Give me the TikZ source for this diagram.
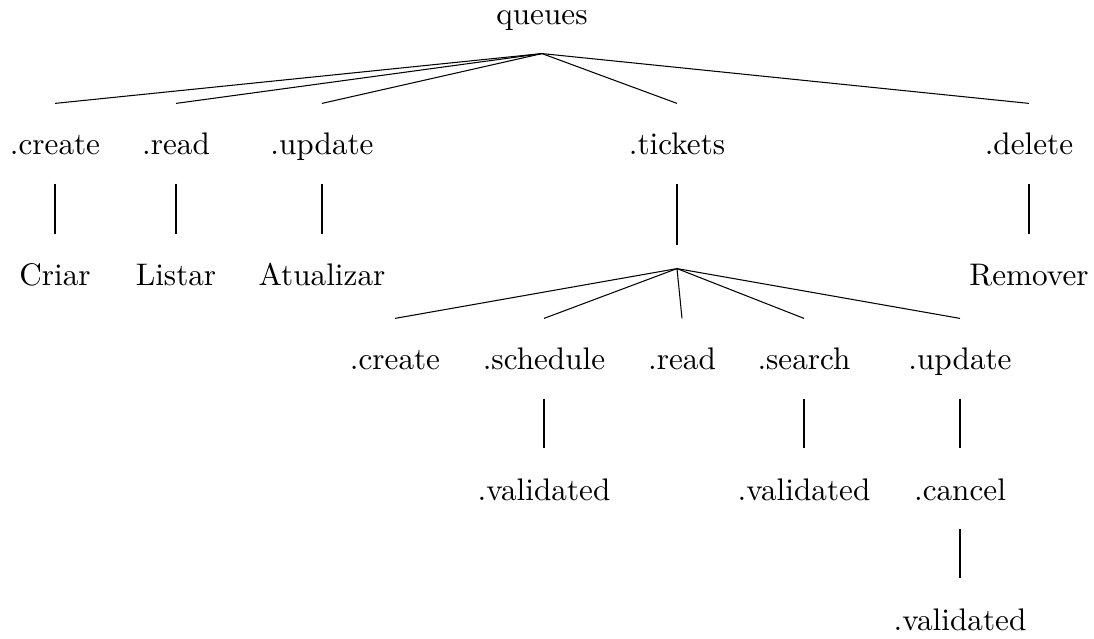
\documentclass[tikz,border=0pt]{standalone}
\begin{document}
\begin{tikzpicture}[x=0.33333pt, y=-0.33333pt,
  lbl/.style={anchor=base, inner sep=0pt, text height=17pt, text depth=9.33pt, font=\fontsize{10.4}{12.5}\selectfont},
  junction/.style={inner sep=0pt, minimum width=0pt, minimum height=7.33pt},
  edge/.style={line width=0.35pt}]
\useasboundingbox (0,0) rectangle (1094,639);

% root
\node[lbl] (q) at (542,25) {queues};

% first level
\node[lbl] (qc) at (55,155) {.create};
\node[lbl] (qr) at (176,155) {.read};
\node[lbl] (qu) at (322,155) {.update};
\node[lbl] (qt) at (677,155) {.tickets};
\node[lbl] (qd) at (1029,155) {.delete};

% leaves under the first level
\node[lbl] (criar) at (55,286) {Criar};
\node[lbl] (listar) at (176,286) {Listar};
\node[lbl] (atual) at (322,286) {Atualizar};
\node[lbl] (remov) at (1029,286) {Remover};

% unlabelled node below .tickets
\node[junction] (tj) at (677,257) {};

% ticket operations
\node[lbl] (tc) at (395,370) {.create};
\node[lbl] (ts) at (544,370) {.schedule};
\node[lbl] (tr) at (682,370) {.read};
\node[lbl] (tq) at (804,370) {.search};
\node[lbl] (tu) at (960,370) {.update};

\node[lbl] (tsv) at (544,500) {.validated};
\node[lbl] (tqv) at (804,500) {.validated};
\node[lbl] (tuc) at (960,500) {.cancel};
\node[lbl] (tucv) at (960,630) {.validated};

% connectors
\foreach \c in {qc,qr,qu,qt,qd} \draw[edge] (q.south) -- (\c.north);
\draw[edge] (qc.south) -- (criar.north);
\draw[edge] (qr.south) -- (listar.north);
\draw[edge] (qu.south) -- (atual.north);
\draw[edge] (qd.south) -- (remov.north);
\draw[edge] (qt.south) -- (tj.north);
\foreach \c in {tc,ts,tr,tq,tu} \draw[edge] (tj.south) -- (\c.north);
\draw[edge] (ts.south) -- (tsv.north);
\draw[edge] (tq.south) -- (tqv.north);
\draw[edge] (tu.south) -- (tuc.north);
\draw[edge] (tuc.south) -- (tucv.north);
\end{tikzpicture}
\end{document}
